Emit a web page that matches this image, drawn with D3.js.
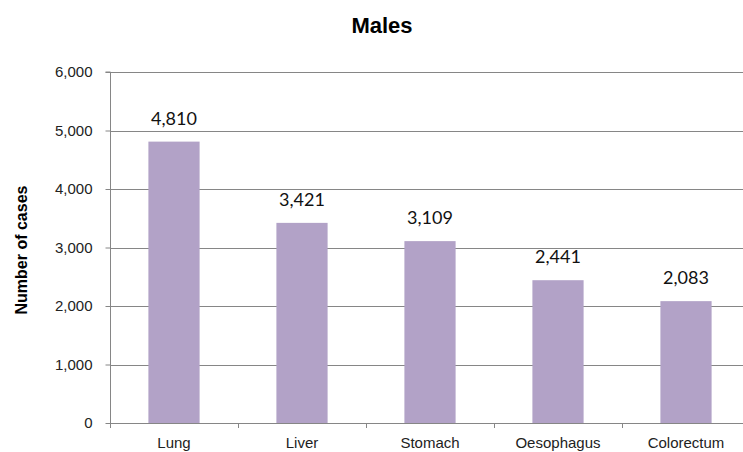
<!DOCTYPE html>
<html><head><meta charset="utf-8">
<script src="https://cdn.jsdelivr.net/npm/d3@7"></script>
<style>body{margin:0;background:#fff}svg{display:block}</style>
</head><body>
<svg id="c" width="743" height="452"></svg>
<script>
const categories = ["Lung","Liver","Stomach","Oesophagus","Colorectum"];
const values = [4810,3421,3109,2441,2083];
const yTicks = [0,1000,2000,3000,4000,5000,6000];
const title = "Males";
const yLabel = "Number of cases";

const svg = d3.select("#c");
const x0 = 110, x1 = 750, yTop = 72, yBot = 423;
const x = d3.scaleBand().domain(categories).range([x0,x1]).paddingInner(0.6).paddingOuter(0.3);
const y = d3.scaleLinear().domain([0,6000]).range([yBot,yTop]);
const fmt = d3.format(",");
const grey = "#868686";
const sans = "Liberation Sans, Arial, sans-serif";

// gridlines
svg.append("g").selectAll("line").data(yTicks.filter(d=>d>0)).join("line")
  .attr("x1",x0).attr("x2",x1).attr("y1",d=>Math.round(y(d))+0.5).attr("y2",d=>Math.round(y(d))+0.5)
  .attr("stroke",grey).attr("stroke-width",1);

// bars
svg.append("g").selectAll("rect").data(values).join("rect")
  .attr("x",(d,i)=>x(categories[i])).attr("width",x.bandwidth())
  .attr("y",d=>y(d)).attr("height",d=>y(0)-y(d)).attr("fill","#B2A2C7");

// y axis
const yAxis = d3.axisLeft(y).tickValues(yTicks).tickFormat(fmt).tickSize(5).tickPadding(13);
const gy = svg.append("g").attr("transform",`translate(${x0+0.5},0)`).call(yAxis);
gy.select(".domain").attr("stroke",grey).attr("d",`M-5,${yTop}H0V${yBot}`);
gy.selectAll(".tick line").attr("stroke",grey);
gy.selectAll(".tick text").attr("font-family",sans).attr("font-size",15).attr("fill","#222");

// x axis
const bounds = categories.map((c,i)=>x0 + i*(x1-x0)/categories.length).concat([x1]);
const gx = svg.append("g");
gx.append("line").attr("x1",x0).attr("x2",x1).attr("y1",yBot+0.5).attr("y2",yBot+0.5).attr("stroke",grey);
gx.selectAll("line.t").data(bounds).join("line").attr("class","t")
  .attr("x1",d=>Math.round(d)+0.5).attr("x2",d=>Math.round(d)+0.5).attr("y1",yBot).attr("y2",yBot+5).attr("stroke",grey);
gx.selectAll("text").data(categories).join("text")
  .attr("x",d=>x(d)+x.bandwidth()/2).attr("y",448).attr("text-anchor","middle")
  .attr("font-family",sans).attr("font-size",15).attr("fill","#222").text(d=>d);

// value labels
svg.append("g").selectAll("text").data(values).join("text")
  .attr("x",(d,i)=>x(categories[i])+x.bandwidth()/2).attr("y",d=>y(d)-17).attr("text-anchor","middle")
  .attr("font-family","Lato, sans-serif").attr("font-size",18).attr("fill","#111").text(d=>fmt(d));

// title
svg.append("text").attr("x",382).attr("y",33).attr("text-anchor","middle")
  .attr("font-family",sans).attr("font-weight","bold").attr("font-size",22).text(title);

// y label
svg.append("text").attr("transform",`translate(27,250) rotate(-90)`).attr("text-anchor","middle")
  .attr("font-family",sans).attr("font-weight","bold").attr("font-size",16).text(yLabel);
</script>
</body></html>
